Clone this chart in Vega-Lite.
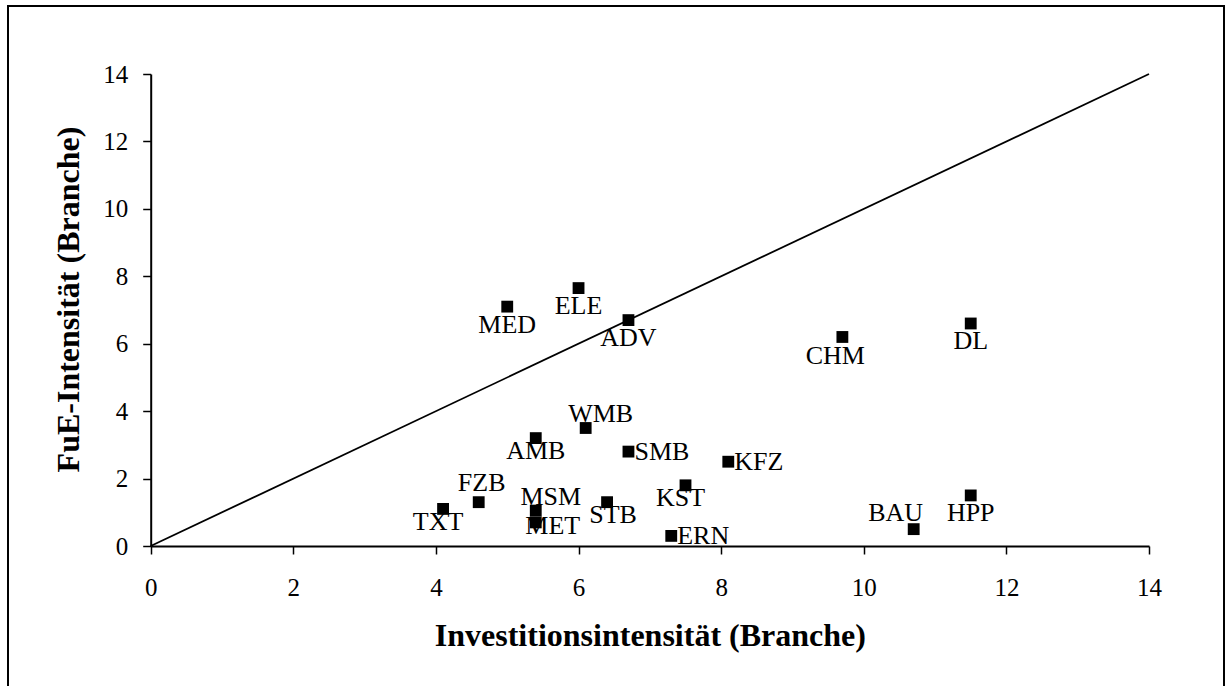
{
  "$schema": "https://vega.github.io/schema/vega-lite/v6.json",
  "width": 1216,
  "height": 700,
  "autosize": {"type": "none"},
  "padding": {"left": 8, "top": 6, "right": 3, "bottom": -20},
  "background": "white",
  "config": {
    "view": {"stroke": "black", "strokeWidth": 2},
    "font": "Liberation Serif",
    "axis": {
      "grid": false,
      "domainColor": "black",
      "domainWidth": 2,
      "tickColor": "black",
      "tickWidth": 1.5,
      "tickSize": 8,
      "labelFont": "Liberation Serif",
      "labelFontSize": 25,
      "labelColor": "black",
      "labelOverlap": false,
      "labelFlush": false,
      "titleFont": "Liberation Serif",
      "titleFontSize": 32,
      "titleFontWeight": "bold",
      "titleColor": "black"
    }
  },
  "datasets": {
    "branchen": [
      {"branche": "MED", "inv": 5.0, "fue": 7.1},
      {"branche": "ELE", "inv": 6.0, "fue": 7.65},
      {"branche": "ADV", "inv": 6.7, "fue": 6.7},
      {"branche": "WMB", "inv": 6.1, "fue": 3.5},
      {"branche": "AMB", "inv": 5.4, "fue": 3.2},
      {"branche": "SMB", "inv": 6.7, "fue": 2.8},
      {"branche": "FZB", "inv": 4.6, "fue": 1.3},
      {"branche": "TXT", "inv": 4.1, "fue": 1.1},
      {"branche": "MSM", "inv": 5.4, "fue": 1.05},
      {"branche": "MET", "inv": 5.4, "fue": 0.7},
      {"branche": "STB", "inv": 6.4, "fue": 1.3},
      {"branche": "KST", "inv": 7.5, "fue": 1.8},
      {"branche": "ERN", "inv": 7.3, "fue": 0.3},
      {"branche": "CHM", "inv": 9.7, "fue": 6.2},
      {"branche": "DL", "inv": 11.5, "fue": 6.6},
      {"branche": "KFZ", "inv": 8.1, "fue": 2.5},
      {"branche": "BAU", "inv": 10.7, "fue": 0.5},
      {"branche": "HPP", "inv": 11.5, "fue": 1.5}
    ],
    "diagonale": [
      {"inv": 0, "fue": 0},
      {"inv": 14, "fue": 14}
    ]
  },
  "data": {"name": "branchen"},
  "encoding": {
    "x": {
      "field": "inv",
      "type": "quantitative",
      "scale": {"domain": [0, 14], "range": [142.7, 1141], "nice": false, "zero": false},
      "axis": {
        "title": "Investitionsintensität (Branche)",
        "orient": "bottom",
        "offset": -160,
        "values": [0, 2, 4, 6, 8, 10, 12, 14],
        "labelPadding": 21,
        "titleY": 99,
        "titleBaseline": "alphabetic"
      }
    },
    "y": {
      "field": "fue",
      "type": "quantitative",
      "scale": {"domain": [0, 14], "range": [540, 68], "nice": false, "zero": false},
      "axis": {
        "title": "FuE-Intensität (Branche)",
        "orient": "left",
        "offset": -142.7,
        "values": [0, 2, 4, 6, 8, 10, 12, 14],
        "labelPadding": 15,
        "titleX": -72.7,
        "titleY": 293,
        "titleAlign": "center",
        "titleBaseline": "alphabetic"
      }
    }
  },
  "layer": [
    {
      "data": {"name": "diagonale"},
      "mark": {"type": "line", "color": "black", "strokeWidth": 1.8}
    },
    {
      "mark": {"type": "point", "shape": "square", "filled": true, "size": 140, "color": "black", "opacity": 1}
    },
    {
      "transform": [{"filter": {"field": "branche", "oneOf": ["MED", "ELE", "ADV", "DL", "HPP"]}}],
      "mark": {"type": "text", "align": "center", "baseline": "middle", "dx": 0, "dy": 18, "fontSize": 26, "color": "black"},
      "encoding": {"text": {"field": "branche"}}
    },
    {
      "transform": [{"filter": {"field": "branche", "oneOf": ["CHM"]}}],
      "mark": {"type": "text", "align": "center", "baseline": "middle", "dx": -7, "dy": 19, "fontSize": 26, "color": "black"},
      "encoding": {"text": {"field": "branche"}}
    },
    {
      "transform": [{"filter": {"field": "branche", "oneOf": ["AMB"]}}],
      "mark": {"type": "text", "align": "center", "baseline": "middle", "dx": 0, "dy": 13, "fontSize": 26, "color": "black"},
      "encoding": {"text": {"field": "branche"}}
    },
    {
      "transform": [{"filter": {"field": "branche", "oneOf": ["TXT", "KST"]}}],
      "mark": {"type": "text", "align": "center", "baseline": "middle", "dx": -5, "dy": 13, "fontSize": 26, "color": "black"},
      "encoding": {"text": {"field": "branche"}}
    },
    {
      "transform": [{"filter": {"field": "branche", "oneOf": ["STB"]}}],
      "mark": {"type": "text", "align": "center", "baseline": "middle", "dx": 6, "dy": 13, "fontSize": 26, "color": "black"},
      "encoding": {"text": {"field": "branche"}}
    },
    {
      "transform": [{"filter": {"field": "branche", "oneOf": ["SMB", "KFZ", "ERN"]}}],
      "mark": {"type": "text", "align": "left", "baseline": "middle", "dx": 6, "dy": 0, "fontSize": 26, "color": "black"},
      "encoding": {"text": {"field": "branche"}}
    },
    {
      "transform": [{"filter": {"field": "branche", "oneOf": ["WMB", "MSM"]}}],
      "mark": {"type": "text", "align": "center", "baseline": "middle", "dx": 15, "dy": -14, "fontSize": 26, "color": "black"},
      "encoding": {"text": {"field": "branche"}}
    },
    {
      "transform": [{"filter": {"field": "branche", "oneOf": ["FZB"]}}],
      "mark": {"type": "text", "align": "center", "baseline": "middle", "dx": 3, "dy": -19, "fontSize": 26, "color": "black"},
      "encoding": {"text": {"field": "branche"}}
    },
    {
      "transform": [{"filter": {"field": "branche", "oneOf": ["BAU"]}}],
      "mark": {"type": "text", "align": "center", "baseline": "middle", "dx": -18, "dy": -16, "fontSize": 26, "color": "black"},
      "encoding": {"text": {"field": "branche"}}
    },
    {
      "transform": [{"filter": {"field": "branche", "oneOf": ["MET"]}}],
      "mark": {"type": "text", "align": "center", "baseline": "middle", "dx": 17, "dy": 4, "fontSize": 26, "color": "black"},
      "encoding": {"text": {"field": "branche"}}
    }
  ]
}
